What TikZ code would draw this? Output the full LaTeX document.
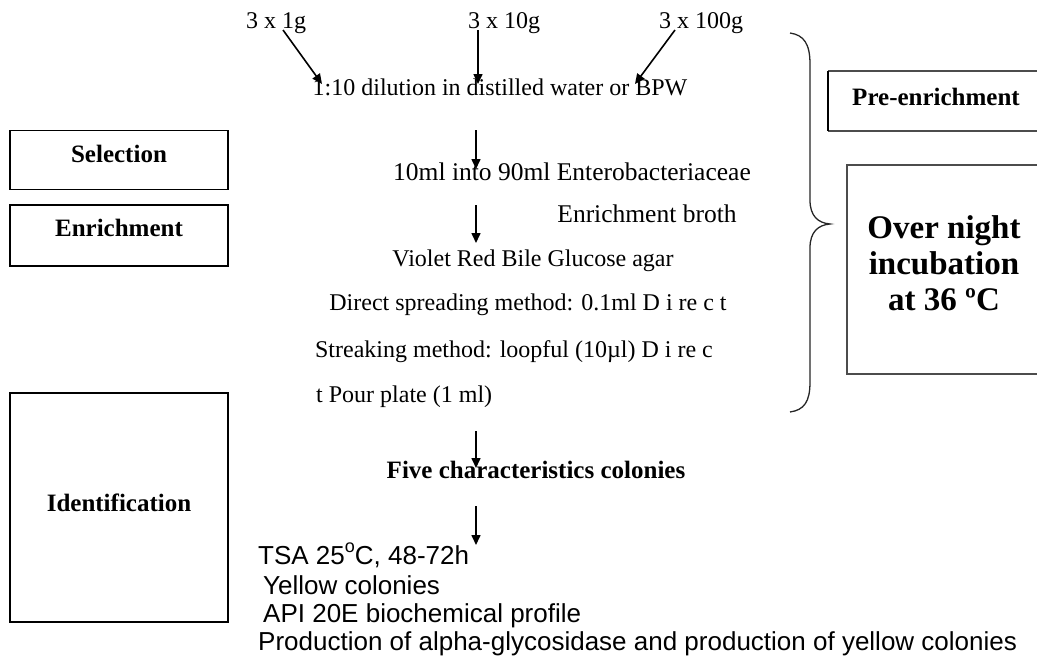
\documentclass[tikz,border=0pt]{standalone}
\usepackage{fontspec}
\setmainfont{Liberation Serif}
\newfontfamily\arialf{Liberation Sans}
\usetikzlibrary{arrows.meta}
\begin{document}
\begin{tikzpicture}[x=1pt,y=-1pt,
  serif/.style={font=\fontsize{24}{28}\selectfont, inner sep=0pt},
  serifbig/.style={font=\fontsize{25.5}{29}\selectfont, inner sep=0pt},
  boldtxt/.style={font=\fontsize{25}{29}\selectfont\bfseries, inner sep=0pt},
  sans/.style={font=\arialf\fontsize{26}{30}\selectfont, inner sep=0pt, anchor=base west},
  arr/.style={line width=1.6pt, -{Triangle[length=10pt,width=9pt]}},
  framebox/.style={draw=black, line width=1.8pt, inner sep=0pt},
  grayline/.style={draw=black!70, line width=1.4pt},
  bracestyle/.style={draw=black!85, line width=1.3pt}]
\useasboundingbox (0,0) rectangle (1037,656);

% left boxes
\node[framebox, minimum width=218pt, minimum height=59pt] (selbox) at (119,160) {};
\node[framebox, minimum width=218pt, minimum height=61pt] (enrbox) at (119,235.5) {};
\node[framebox, minimum width=218pt, minimum height=229pt] (idbox) at (119,507.5) {};
\node[boldtxt, anchor=base] (sellbl) at (119,162) {Selection};
\node[boldtxt, anchor=base] (enrlbl) at (119,236) {Enrichment};
\node[boldtxt, anchor=base] (idlbl) at (119,511) {Identification};

% right boxes (open on the right)
\draw[grayline] (1045,71) -- (828,71);
\draw[grayline] (828,131) -- (1045,131);
\draw[line width=2pt] (828,71) -- (828,131);
\node[boldtxt, anchor=base] (prelbl) at (936,105) {Pre-enrichment};
\draw[grayline] (1045,165) -- (847,165) -- (847,374) -- (1045,374);
\node[font=\fontsize{33}{36}\selectfont\bfseries, align=center, inner sep=0pt] (onlbl) at (944,263) {Over night\\incubation\\at 36 ºC};

% brace
\draw[bracestyle] (790,33) .. controls (804,35) and (810,44) .. (810,64) -- (810,200)
  .. controls (810,216) and (818,223) .. (830,224)
  .. controls (818,225) and (810,232) .. (810,248) -- (810,382)
  .. controls (810,402) and (804,410) .. (790,412);

% flow texts
\node[serif, anchor=base] (s1) at (276,28) {3 x 1g};
\node[serif, anchor=base] (s10) at (504,28) {3 x 10g};
\node[serif, anchor=base] (s100) at (701,28) {3 x 100g};
\node[serif, anchor=base] (dil) at (500,95) {1:10 dilution in distilled water or BPW};
\node[serifbig, anchor=base] (ml) at (572,180) {10ml into 90ml Enterobacteriaceae};
\node[serifbig, anchor=base] (broth) at (647,222) {Enrichment broth};
\node[serif, anchor=base] (vrbg) at (533,266) {Violet Red Bile Glucose agar};
\node[serif, anchor=base] (direct) at (528,310) {Direct spreading method: 0.1ml D i re c t};
\node[serif, anchor=base] (streak) at (514,357) {Streaking method: loopful (10µl) D i re c};
\node[serif, anchor=base west] (pour) at (316,402) {t Pour plate (1 ml)};
\node[boldtxt, anchor=base] (five) at (536,478) {Five characteristics colonies};
\node[sans] (tsa) at (258,564) {TSA 25\raisebox{12pt}{\fontsize{18}{18}\selectfont o}C, 48-72h};
\node[sans] (yel) at (263,594) {Yellow colonies};
\node[sans] (api) at (263,622) {API 20E biochemical profile};
\node[sans] (prod) at (258,650) {Production of alpha-glycosidase and production of yellow colonies};

% arrow end points
\coordinate (a1s) at (283,30);  \coordinate (a1e) at (322,84);
\coordinate (a2s) at (478,30);  \coordinate (a2e) at (478,84);
\coordinate (a3s) at (675,30);  \coordinate (a3e) at (635,84);
\coordinate (a4s) at (476,130); \coordinate (a4e) at (476,169);
\coordinate (a5s) at (476,205); \coordinate (a5e) at (476,243);
\coordinate (a6s) at (476,431); \coordinate (a6e) at (476,468);
\coordinate (a7s) at (476,506); \coordinate (a7e) at (476,545);
\draw[arr] (a1s) -- (a1e);
\draw[arr] (a2s) -- (a2e);
\draw[arr] (a3s) -- (a3e);
\draw[arr] (a4s) -- (a4e);
\draw[arr] (a5s) -- (a5e);
\draw[arr] (a6s) -- (a6e);
\draw[arr] (a7s) -- (a7e);
\end{tikzpicture}
\end{document}
